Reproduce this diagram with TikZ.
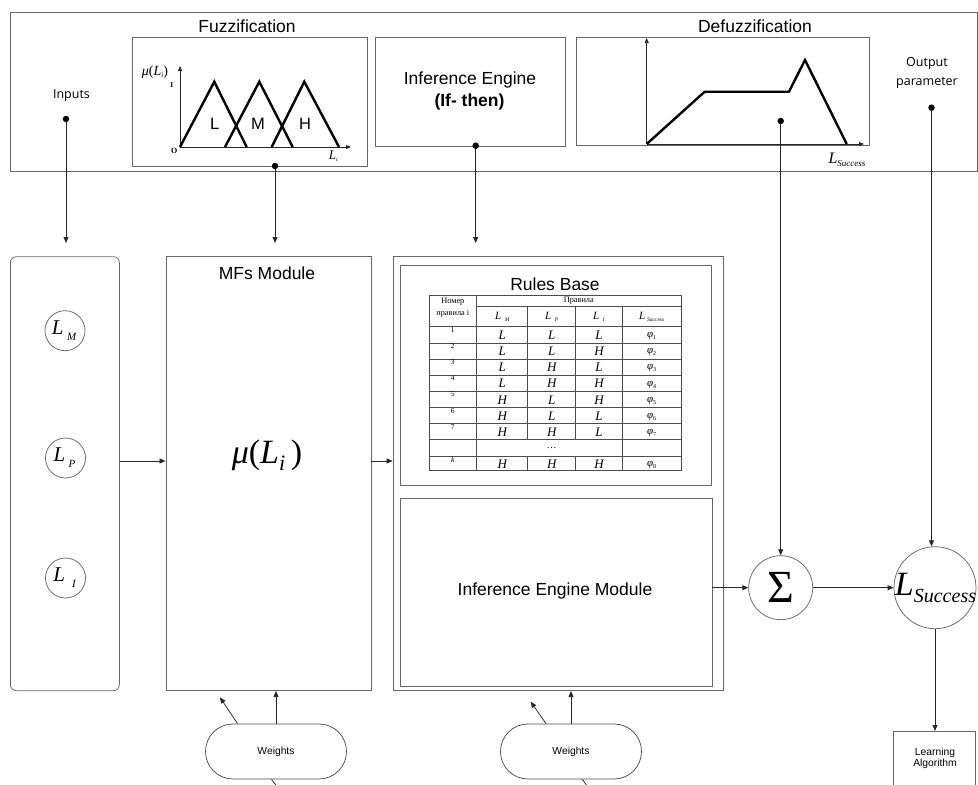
\documentclass[tikz,border=0pt]{standalone}
\usepackage{fontspec}
\setmainfont{Liberation Sans}
\newfontfamily\tms{Liberation Serif}
\newfontfamily\osans{Open Sans}
\usetikzlibrary{arrows.meta}
\begin{document}
\begin{tikzpicture}[x=1pt,y=-1pt,
  box/.style={draw=black!60,line width=0.75pt,inner sep=0pt,anchor=north west},
  conn/.style={draw=black!85,line width=0.75pt,-{Triangle[length=6pt,width=5pt]}},
  plainline/.style={draw=black!85,line width=0.75pt},
  dotn/.style={circle,fill=black,inner sep=0pt,minimum size=6.5pt},
  bigtxt/.style={font=\fontsize{17.5}{21}\selectfont,inner sep=0pt},
  smalltxt/.style={font=\fontsize{10.3}{10.7}\selectfont,inner sep=0pt,align=center},
  otxt/.style={font=\osans\fontsize{12.5}{19.4}\selectfont,inner sep=0pt,align=center},
  mfline/.style={line width=2.4pt,line join=miter,draw=black},
  axisline/.style={draw=black!85,line width=0.75pt,-{Triangle[length=5pt,width=4pt]}},
  ring/.style={circle,draw=black!60,line width=0.75pt,inner sep=0pt},
  stad/.style={draw=black!70,line width=0.75pt,rounded corners=27.4pt,minimum width=141pt,minimum height=55pt,inner sep=0pt},
  tline/.style={draw=black!70,line width=0.6pt},
  tnum/.style={font=\tms\fontsize{7.5}{8}\selectfont,inner sep=0pt},
  tent/.style={font=\tms\itshape\fontsize{13}{13}\selectfont,inner sep=0pt},
  tphi/.style={font=\tms\itshape\fontsize{11}{11}\selectfont,inner sep=0pt},
  thead/.style={font=\tms\fontsize{8.3}{11.6}\selectfont,inner sep=0pt,align=center},
]
\useasboundingbox (0,0) rectangle (978,785);
\clip (0,0) rectangle (978,785);

% ---------- top panel ----------
\node[box,minimum width=967pt,minimum height=158.5pt] (top) at (9.5,12.3) {};
\node[box,minimum width=234.4pt,minimum height=128.7pt] (fuz) at (132.3,37.3) {};
\node[box,minimum width=190pt,minimum height=108.4pt] (ieb) at (375.3,37.3) {};
\node[box,minimum width=293.3pt,minimum height=107.7pt] (dfz) at (575.7,37.3) {};

\node[bigtxt] (fuzt) at (247,26.5) {Fuzzification};
\node[bigtxt] (dfzt) at (755,26) {Defuzzification};
\node[bigtxt] (iet1) at (470,80) {Inference Engine};
\node[bigtxt] (iet2) at (469.5,101.5) {\textbf{(If- then)}};
\node[otxt] (inp) at (71.5,96) {Inputs};
\node[otxt] (outp) at (927,73) {Output\\parameter};

% fuzzification chart
\draw[axisline] (180,147) -- (180,66);
\draw[axisline] (180,147) -- (351,147);
\draw[mfline] (180,147) -- (214.3,81.7) -- (246.7,147);
\draw[mfline] (225,147) -- (259.3,81.7) -- (292.7,147);
\draw[mfline] (271.7,147) -- (304.3,81.7) -- (339,147);
\node[font=\fontsize{16.5}{18}\selectfont,inner sep=0pt] (tl) at (214.7,123.7) {L};
\node[font=\fontsize{16.5}{18}\selectfont,inner sep=0pt] (tm) at (258,123.7) {M};
\node[font=\fontsize{16.5}{18}\selectfont,inner sep=0pt] (th) at (305,123.7) {H};
\node[font=\tms\bfseries\fontsize{7.5}{8}\selectfont,inner sep=0pt] (one) at (171.7,85) {1};
\node[font=\tms\bfseries\fontsize{8}{8}\selectfont,inner sep=0pt] (orig) at (174.3,150.5) {O};
\node[font=\tms\fontsize{14}{14}\selectfont,inner sep=0pt] (muax) at (155,71.7) {\textit{μ}(\textit{L}\raisebox{-2.5pt}{\fontsize{7}{7}\selectfont\textit{i}})};
\node[font=\tms\itshape\fontsize{13}{13}\selectfont,inner sep=0pt] (liax) at (333.3,156.7) {L\raisebox{-2pt}{\fontsize{6}{6}\selectfont i}};

% defuzzification chart
\draw[axisline] (646.7,144) -- (646.7,38);
\draw[axisline] (646.7,144) -- (864,144);
\draw[mfline] (646.7,144) -- (704.7,91.7) -- (789,91.7) -- (805,60) -- (846.7,144);
\node[font=\tms\itshape\fontsize{16}{16}\selectfont,inner sep=0pt] (lsax) at (847,160) {L\raisebox{-3pt}{\fontsize{9}{9}\selectfont Success}};

% dots
\node[dotn] (dinp) at (66,119) {};
\node[dotn] (dfuz) at (275,166) {};
\node[dotn] (die) at (475.7,145.7) {};
\node[dotn] (ddf) at (780.7,121) {};
\node[dotn] (dout) at (931.5,107.7) {};

% ---------- lower part ----------
\node[box,rounded corners=6pt,minimum width=109pt,minimum height=434pt] (inb) at (10,256.3) {};
\node[box,minimum width=205pt,minimum height=434pt] (mfb) at (165.5,256.3) {};
\node[box,minimum width=330.5pt,minimum height=434pt] (bigb) at (392.7,256.3) {};
\node[box,minimum width=311pt,minimum height=220pt] (rbb) at (400,265) {};
\node[box,minimum width=311.5pt,minimum height=188pt] (iem) at (400,498) {};

\node[bigtxt] (mft) at (267,273) {MFs Module};
\node[font=\tms\fontsize{34}{36}\selectfont,inner sep=0pt] (mu) at (267,455) {\textit{μ}(\textit{L}\raisebox{-7pt}{\fontsize{22}{22}\selectfont\textit{i}}\,)};
\node[bigtxt] (rbt) at (555,284) {Rules Base};
\node[bigtxt] (iemt) at (555,591) {Inference Engine Module};

% input circles
\node[ring,minimum size=40pt] (lmc) at (65,330.7) {};
\node[font=\tms\itshape\fontsize{21}{21}\selectfont,inner sep=0pt] (lmt) at (64,331) {L\,\raisebox{-6pt}{\fontsize{11}{11}\selectfont M}};
\node[ring,minimum size=40pt] (lpc) at (65.5,458) {};
\node[font=\tms\itshape\fontsize{21}{21}\selectfont,inner sep=0pt] (lpt) at (64.5,458) {L\,\raisebox{-6pt}{\fontsize{11}{11}\selectfont P}};
\node[ring,minimum size=40pt] (lic) at (65.5,578) {};
\node[font=\tms\itshape\fontsize{21}{21}\selectfont,inner sep=0pt] (lit) at (64.5,578) {L\,\,\raisebox{-6pt}{\fontsize{11}{11}\selectfont I}};

% sigma and output
\node[ring,minimum size=64pt,font=\tms\fontsize{46}{46}\selectfont] (sig) at (780.7,587.7) {Σ};
\node[ring,minimum size=82pt] (ls) at (935,587.7) {};
\node[font=\tms\itshape\fontsize{34}{34}\selectfont,inner sep=0pt] (lst) at (935.5,588) {L\raisebox{-7pt}{\fontsize{20}{20}\selectfont Success}};

\node[box,minimum width=82.5pt,minimum height=80pt] (la) at (892.7,731) {};
\node[smalltxt] (lat) at (935,758.5) {Learning\\Algorithm};

\node[stad,font=\fontsize{10.3}{12}\selectfont] (w1) at (276,751.5) {Weights};
\node[stad,font=\fontsize{10.3}{12}\selectfont] (w2) at (571,751.5) {Weights};

% ---------- rules table ----------
\draw[tline,line width=0.75pt] (429,295) rectangle (681,470);
\draw[tline] (476.7,306.7) -- (681,306.7);
\draw[tline] (429,326.7) -- (681,326.7);
\foreach \y in {342.85,359,375.15,391.3,407.45,423.6,439.75,455.9} \draw[tline] (429,\y) -- (681,\y);
\draw[tline] (476.7,295) -- (476.7,470);
\draw[tline] (622.3,306.7) -- (622.3,470);
\draw[tline] (527.7,306.7) -- (527.7,439.75);
\draw[tline] (575.7,306.7) -- (575.7,439.75);
\draw[tline] (527.7,455.9) -- (527.7,470);
\draw[tline] (575.7,455.9) -- (575.7,470);

\node[thead] (h1) at (452.8,307.5) {Номер\\правила i};
\node[thead] (h2) at (578.8,301) {Правила};
\node[tent,font=\tms\itshape\fontsize{11}{11}\selectfont] (hm) at (502.2,316.7) {L\,\,\raisebox{-2pt}{\fontsize{5.5}{5.5}\selectfont M}};
\node[tent,font=\tms\itshape\fontsize{11}{11}\selectfont] (hp) at (551.7,316.7) {L\,\,\raisebox{-2pt}{\fontsize{5.5}{5.5}\selectfont P}};
\node[tent,font=\tms\itshape\fontsize{11}{11}\selectfont] (hi) at (599,316.7) {L\,\,\raisebox{-2pt}{\fontsize{5.5}{5.5}\selectfont I}};
\node[tent,font=\tms\itshape\fontsize{11}{11}\selectfont] (hs) at (651.7,316.7) {L\,\raisebox{-2pt}{\fontsize{5.5}{5.5}\selectfont Success}};

\foreach \n/\a/\b/\c/\k [count=\r] in {1/L/L/L/1,2/L/L/H/2,3/L/H/L/3,4/L/H/H/4,5/H/L/H/5,6/H/L/L/6,7/H/H/L/7}{
  \pgfmathsetmacro\yt{326.7+16.15*(\r-1)}
  \node[tnum] (n\r) at (452.8,\yt+3.2) {\n};
  \node[tent] (a\r) at (502.2,\yt+8.5) {\a};
  \node[tent] (b\r) at (551.7,\yt+8.5) {\b};
  \node[tent] (c\r) at (599,\yt+8.5) {\c};
  \node[tphi] (p\r) at (651.7,\yt+9.5) {φ\raisebox{-2pt}{\fontsize{6}{6}\selectfont\upshape\k}};
}
\node[tent,font=\tms\fontsize{10}{10}\selectfont] (dots) at (551.7,448.5) {\dots};
\node[tnum,font=\tms\itshape\fontsize{8}{8}\selectfont] (n9) at (452.8,459.5) {k};
\node[tent] (a9) at (502.2,464.4) {H};
\node[tent] (b9) at (551.7,464.4) {H};
\node[tent] (c9) at (599,464.4) {H};
\node[tphi] (p9) at (651.7,465.4) {φ\raisebox{-2pt}{\fontsize{6}{6}\selectfont\upshape 8}};

% ---------- connectors ----------
\coordinate (ainp) at (66,243);
\coordinate (afuz) at (275,243);
\coordinate (aie) at (475.7,243);
\coordinate (rowy) at (0,461);
\draw[conn] (dinp) -- (ainp);
\draw[conn] (dfuz) -- (afuz);
\draw[conn] (die) -- (aie);
\draw[conn] (inb.east |- rowy) -- (mfb.west |- rowy);
\draw[conn] (mfb.east |- rowy) -- (bigb.west |- rowy);
\draw[conn] (ddf) -- (ddf |- sig.north);
\draw[conn] (dout) -- (dout |- ls.north);
\draw[conn] (iem.east |- sig.west) -- (sig.west);
\draw[conn] (sig.east) -- (ls.west);
\draw[conn] (ls.south) -- (ls.south |- la.north);

\coordinate (w1d) at (220,697.3);
\coordinate (w1b) at (279.5,789.6);
\draw[conn] (w1.north) -- (w1.north |- mfb.south);
\draw[conn] ([xshift=-38.5pt]w1.north) -- (w1d);
\draw[plainline] ([xshift=-4.5pt]w1.south) -- (w1b);
\coordinate (w2d) at (530.7,701.7);
\coordinate (w2b) at (589.6,789.4);
\draw[conn] (w2.north) -- (w2.north |- bigb.south);
\draw[conn] ([xshift=-25pt]w2.north) -- (w2d);
\draw[plainline] ([xshift=11.3pt]w2.south) -- (w2b);
\end{tikzpicture}
\end{document}
